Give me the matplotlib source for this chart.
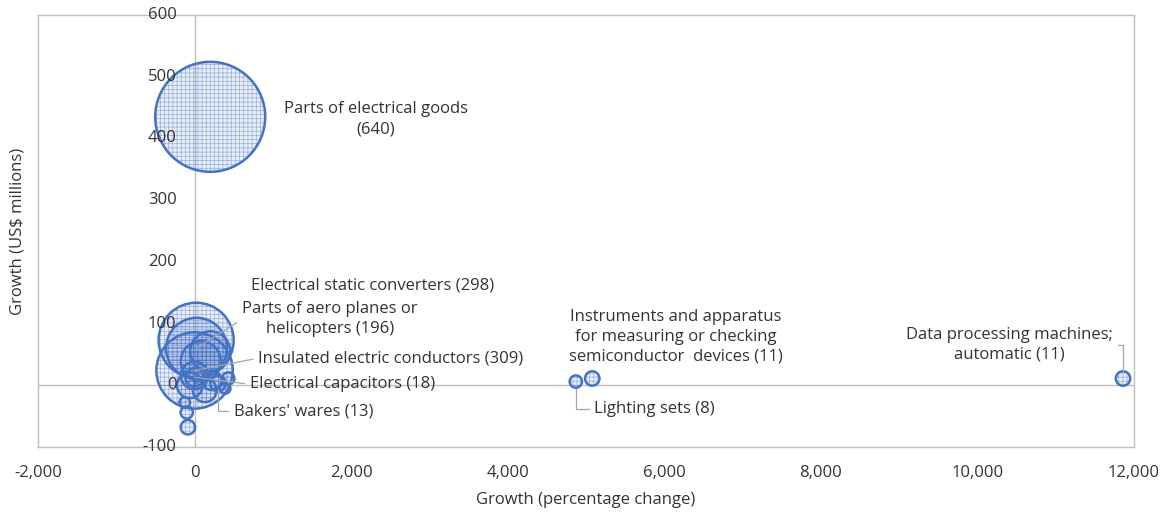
import matplotlib

matplotlib.use("Agg")
import matplotlib.pyplot as plt

plt.rcParams["font.family"] = ["Open Sans", "DejaVu Sans"]
plt.rcParams["hatch.linewidth"] = 0.5

# Data: growth in % (x), growth in US$ millions (y), bubble size (value in brackets)
names = [
    "Parts of electrical goods",
    "Electrical static converters",
    "Insulated electric conductors",
    "Parts of aero planes or helicopters",
    "Electrical capacitors",
    "Bakers' wares",
    "Instruments and apparatus for measuring or checking semiconductor devices",
    "Lighting sets",
    "Data processing machines; automatic",
    "", "", "", "", "", "", "", "", "", "", "",
]
growth_pct = [200, 20, 0, 25, 0, 300, 5080, 4870, 11860,
              200, 80, -60, 130, 0, 220, 430, 390, -85, -100, -125]
growth_usd = [435, 73, 24, 60, 13, 3, 11, 6, 11,
              55, 39, 0, -8, 16, 8, 11, -5, -68, -44, -28]
sizes = [640, 298, 309, 196, 18, 13, 11, 8, 11,
         85, 85, 35, 30, 40, 20, 8, 6, 11, 8, 6]

# label texts and where they sit (data coords), leader style
labels = {
    "Parts of electrical goods": ("Parts of electrical goods\n(640)", (2318, 431), None),
    "Electrical static converters": ("Electrical static converters (298)", (2275, 162), None),
    "Parts of aero planes or helicopters": ("Parts of aero planes or\nhelicopters (196)", (1727, 107), "line"),
    "Insulated electric conductors": ("Insulated electric conductors (309)", (2509, 44), "line"),
    "Electrical capacitors": ("Electrical capacitors (18)", (1893, 1.5), "line"),
    "Bakers' wares": ("Bakers' wares (13)", (1394, -42), "angle"),
    "Instruments and apparatus for measuring or checking semiconductor devices": (
        "Instruments and apparatus\nfor measuring or checking\nsemiconductor  devices (11)", (6142, 79), None),
    "Lighting sets": ("Lighting sets (8)", (5874, -39), "angle"),
    "Data processing machines; automatic": ("Data processing machines;\nautomatic (11)", (10405, 65), "angle_r"),
}
hatches = {"Parts of aero planes or helicopters": "------"}

x_ticks = [-2000, 0, 2000, 4000, 6000, 8000, 10000, 12000]
y_ticks = [-100, 0, 100, 200, 300, 400, 500, 600]

edge = "#4472C4"
grey = "#bfbfbf"
text_c = "#333333"
fs = 12

fig = plt.figure(figsize=(11.62, 5.14), dpi=100)
ax = fig.add_axes([38 / 1162, 67 / 514, 1096 / 1162, 432 / 514])
ax.set_xlim(-2000, 12000)
ax.set_ylim(-100, 600)

ax.axhline(0, color=grey, lw=1, zorder=1)
ax.axvline(0, color=grey, lw=1, zorder=1)

# largest first so the small bubbles stay visible on top
scale = 9.8  # marker area (pt^2) per unit of bubble value
order = sorted(range(len(sizes)), key=lambda i: -sizes[i])
z = 2
for i in order:
    h = hatches.get(names[i], "++++")
    ax.scatter(growth_pct[i], growth_usd[i], s=sizes[i] * scale,
               facecolor=(0.27, 0.45, 0.77, 0.12), edgecolor=(0.27, 0.45, 0.77, 0.5),
               linewidths=0, hatch=h, zorder=z)
    ax.scatter(growth_pct[i], growth_usd[i], s=sizes[i] * scale,
               facecolor="none", edgecolor=edge, linewidths=1.8, zorder=z + 1)
    z += 2

for i, n in enumerate(names):
    if n not in labels:
        continue
    txt, pos, style = labels[n]
    kw = dict(ha="center", va="center", fontsize=fs, color=text_c,
              linespacing=1.3, zorder=100)
    if style is None:
        ax.text(pos[0], pos[1], txt, **kw)
        continue
    if style == "line":
        ap = dict(arrowstyle="-", color="#a6a6a6", lw=0.9, relpos=(0, 0.5),
                  shrinkA=2, shrinkB=0)
    elif style == "angle":
        ap = dict(arrowstyle="-", color="#a6a6a6", lw=0.9, relpos=(0, 0.5),
                  connectionstyle="angle,angleA=0,angleB=90,rad=0", shrinkA=2, shrinkB=5)
    else:
        ap = dict(arrowstyle="-", color="#a6a6a6", lw=0.9, relpos=(1, 0.5),
                  connectionstyle="angle,angleA=0,angleB=90,rad=0", shrinkA=2, shrinkB=5)
    ax.annotate(txt, xy=(growth_pct[i], growth_usd[i]), xytext=pos,
                arrowprops=ap, **kw)

# axes styling, Excel-like
for sp in ax.spines.values():
    sp.set_color(grey)
    sp.set_linewidth(1)
ax.set_xticks(x_ticks)
ax.set_xticklabels([f"{v:,}" for v in x_ticks], fontsize=fs, color=text_c)
ax.tick_params(axis="x", length=0, pad=13)
ax.set_yticks([])
for v in y_ticks:
    ax.annotate(f"{v}", xy=(0, v), xytext=(-13, 0), textcoords="offset points",
                ha="right", va="center", fontsize=fs, color=text_c, zorder=100,
                annotation_clip=False)

ax.set_xlabel("Growth (percentage change)", fontsize=fs, color=text_c, labelpad=8)
fig.text(18 / 1162, 1 - 231 / 514, "Growth (US$ millions)", rotation=90,
         ha="center", va="center", fontsize=fs, color=text_c)

fig.savefig("out.png", dpi=100)
